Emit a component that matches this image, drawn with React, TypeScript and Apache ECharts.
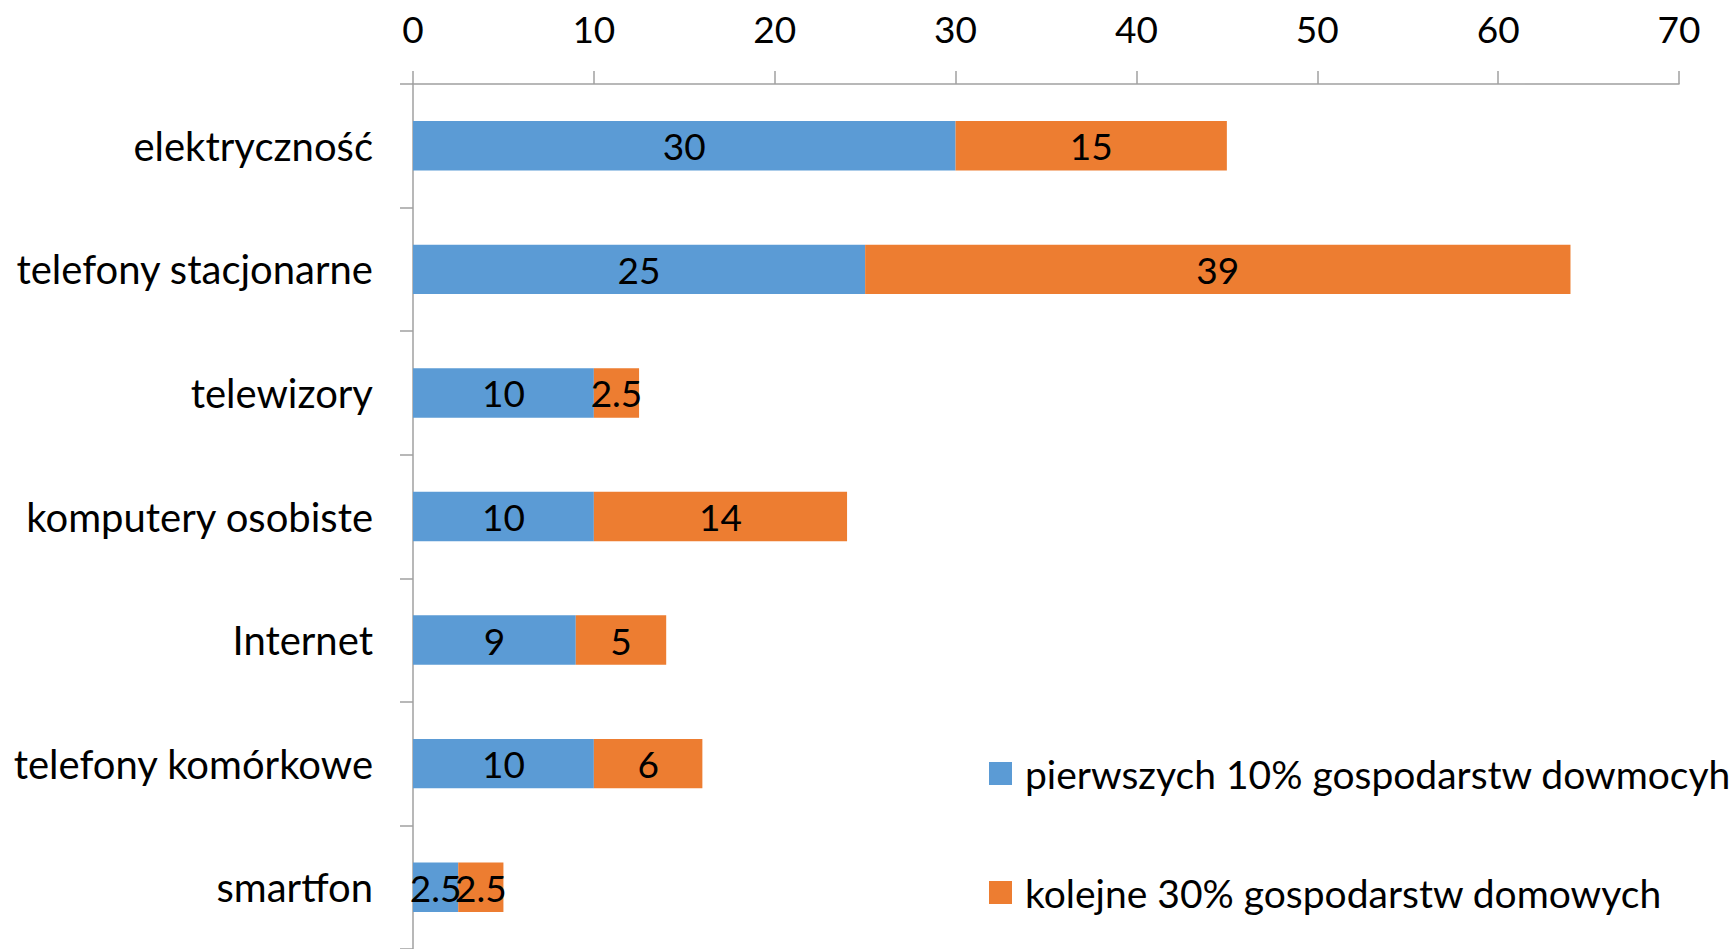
import React, { useEffect, useRef } from "react";
import * as echarts from "echarts";

const categories = [
  "elektryczność",
  "telefony stacjonarne",
  "telewizory",
  "komputery osobiste",
  "Internet",
  "telefony komórkowe",
  "smartfon",
];
const seriesNames = [
  "pierwszych 10% gospodarstw dowmocyh",
  "kolejne 30% gospodarstw domowych",
];
const firstValues = [30, 25, 10, 10, 9, 10, 2.5];
const nextValues = [15, 39, 2.5, 14, 5, 6, 2.5];
const xMin = 0;
const xMax = 70;
const xInterval = 10;

const FONT = "Lato";

export default function App() {
  const ref = useRef<HTMLDivElement>(null);
  useEffect(() => {
    if (!ref.current) return;
    const chart = echarts.init(ref.current, undefined, { renderer: "svg" });
    const axisColor = "#a0a0a0";
    const label = {
      show: true,
      position: "inside",
      color: "#000",
      fontSize: 37,
      fontFamily: FONT,
    };
    chart.setOption({
      animation: false,
      backgroundColor: "#ffffff",
      textStyle: { fontFamily: FONT },
      grid: { left: 413, right: 57, top: 84, height: 866, containLabel: false },
      xAxis: {
        type: "value",
        position: "top",
        min: xMin,
        max: xMax,
        interval: xInterval,
        splitLine: { show: false },
        axisLine: { show: true, lineStyle: { color: axisColor, width: 1.5 } },
        axisTick: { show: true, length: 13, lineStyle: { color: axisColor, width: 1.5 } },
        axisLabel: { color: "#000", fontSize: 37, fontFamily: FONT, margin: 37 },
      },
      yAxis: {
        type: "category",
        inverse: true,
        data: categories,
        axisLine: { show: true, lineStyle: { color: axisColor, width: 1.5 } },
        axisTick: { show: true, length: 13, lineStyle: { color: axisColor, width: 1.5 } },
        axisLabel: { color: "#000", fontSize: 40, fontFamily: FONT, margin: 40 },
      },
      legend: {
        orient: "vertical",
        left: 984,
        top: 749,
        itemWidth: 23,
        itemHeight: 23,
        itemGap: 80,
        icon: "rect",
        data: seriesNames,
        textStyle: { color: "#000", fontSize: 39, fontFamily: FONT, padding: [0, 0, 0, 8] },
      },
      series: [
        {
          name: seriesNames[0],
          type: "bar",
          stack: "total",
          data: firstValues,
          barWidth: "40%",
          itemStyle: { color: "#5B9BD5" },
          label,
        },
        {
          name: seriesNames[1],
          type: "bar",
          stack: "total",
          data: nextValues,
          barWidth: "40%",
          itemStyle: { color: "#ED7D31" },
          label,
        },
      ],
    });
    return () => chart.dispose();
  }, []);
  return (
    <div
      ref={ref}
      style={{ position: "fixed", left: 0, top: 0, width: 1736, height: 949, background: "#fff" }}
    />
  );
}
